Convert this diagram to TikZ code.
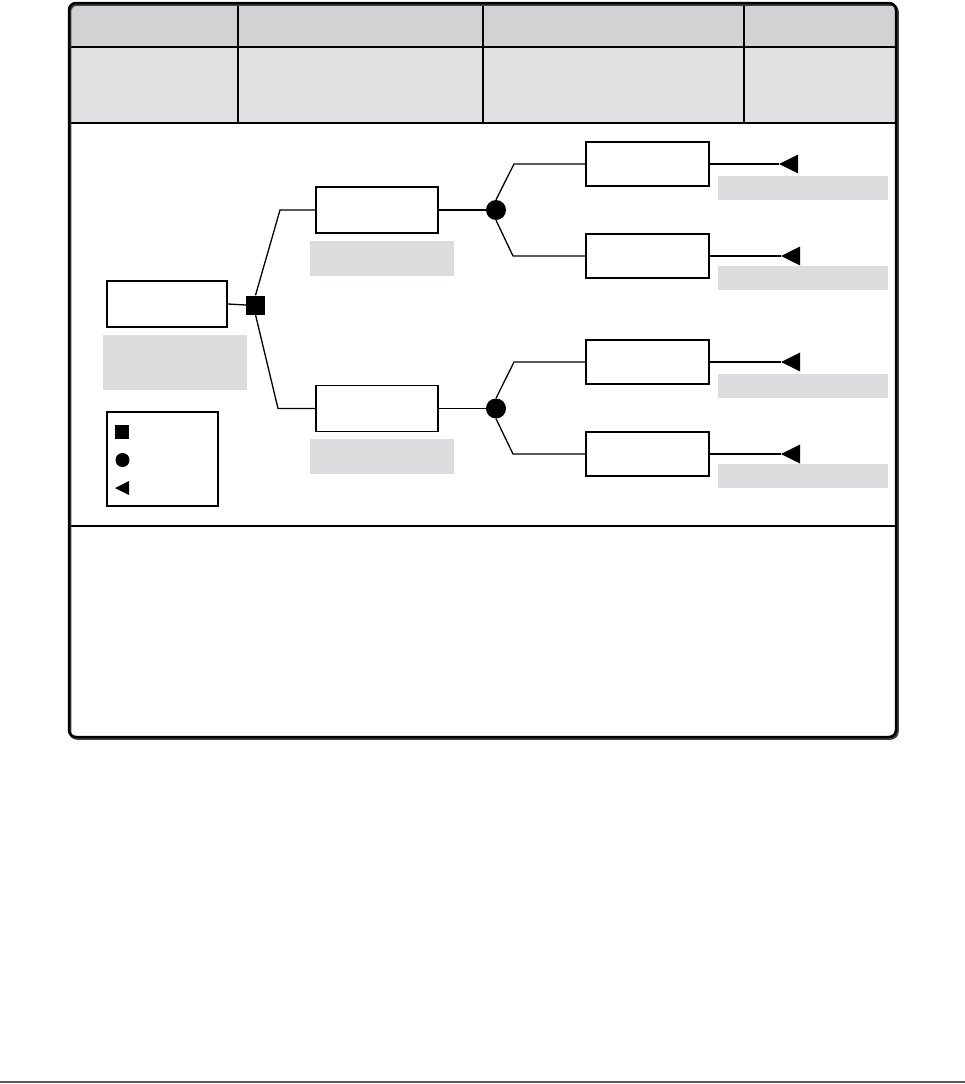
\documentclass[tikz,border=0pt]{standalone}
\definecolor{hdrA}{HTML}{D1D2D4}
\definecolor{hdrB}{HTML}{E0E1E3}
\definecolor{lbl}{HTML}{DCDDDF}
\definecolor{rule}{HTML}{5A5A5A}
\begin{document}
\begin{tikzpicture}[x=1pt,y=-1pt,
  stepbox/.style={draw,line width=1.8pt,inner sep=0,minimum width=122pt,minimum height=46pt},
  endbox/.style={draw,line width=1.8pt,inner sep=0,minimum width=123pt,minimum height=44pt},
  lblbox/.style={fill=lbl,inner sep=0},
  conn/.style={line width=1.3pt},
  decnode/.style={fill=black,inner sep=0,minimum size=19pt},
  chancenode/.style={circle,fill=black,inner sep=0,minimum size=20pt},
  endmark/.style={fill=black}]
\useasboundingbox (0,0) rectangle (965,1084);
% frame and header
\begin{scope}
  \clip[rounded corners=7pt] (69,3) rectangle (896,737);
  \fill[hdrA] (69,3) rectangle (896,47);
  \fill[hdrB] (69,47) rectangle (896,123);
\end{scope}
\draw[line width=1.5pt] (69,47) -- (896,47);
\draw[line width=2.5pt] (69,123) -- (896,123);
\foreach \cx in {238,483,744} \draw[line width=2pt] (\cx,3) -- (\cx,123);
\draw[line width=1.6pt] (69,526) -- (896,526);
\draw[line width=2.5pt,black!75,rounded corners=7pt] (70,4.5) rectangle (897.5,738.5);
\draw[line width=2.5pt,rounded corners=7pt] (69,3) rectangle (896,737);
\draw[line width=2.5pt,rule] (0,1082) -- (965,1082);
% tree nodes
\node[draw,line width=1.8pt,inner sep=0,minimum width=120pt,minimum height=46pt] (root) at (167,304) {};
\node[lblbox,minimum width=144pt,minimum height=55pt] (rootlbl) at (175,362.5) {};
\node[stepbox] (b1) at (377,210) {};
\node[lblbox,minimum width=144pt,minimum height=35pt] (b1lbl) at (382,258.5) {};
\node[stepbox] (b2) at (377,408.5) {};
\node[lblbox,minimum width=144pt,minimum height=35pt] (b2lbl) at (382,456.5) {};
\node[endbox] (r1) at (647.5,164) {};
\node[endbox] (r2) at (647.5,256) {};
\node[endbox] (r3) at (647.5,362) {};
\node[endbox] (r4) at (647.5,454) {};
\node[lblbox,minimum width=170pt,minimum height=24pt] (r1lbl) at (803,188) {};
\node[lblbox,minimum width=170pt,minimum height=24pt] (r2lbl) at (803,278) {};
\node[lblbox,minimum width=170pt,minimum height=24pt] (r3lbl) at (803,386) {};
\node[lblbox,minimum width=170pt,minimum height=24pt] (r4lbl) at (803,475.5) {};
% connectors
\coordinate (k1) at (280,210);
\coordinate (k2) at (278,408.5);
\coordinate (m1) at (514,164);
\coordinate (m2) at (513,256);
\coordinate (m3) at (514,362);
\coordinate (m4) at (513,454);
\coordinate (t1) at (779,164);
\coordinate (t2) at (781,256);
\coordinate (t3) at (781,362);
\coordinate (t4) at (781,454);
\node[decnode] (dec) at (255.5,305) {};
\node[chancenode] (c1) at (496,210) {};
\node[chancenode] (c2) at (496,408.5) {};
\draw[conn] (root.east) -- (dec.west);
\draw[conn] (dec.north) -- (k1) -- (b1.west);
\draw[conn] (dec.south) -- (k2) -- (b2.west);
\draw[conn] (b1.east) -- (c1.west);
\draw[conn] (b2.east) -- (c2.west);
\draw[conn] (c1.north) -- (m1) -- (r1.west);
\draw[conn] (c1.south) -- (m2) -- (r2.west);
\draw[conn] (c2.north) -- (m3) -- (r3.west);
\draw[conn] (c2.south) -- (m4) -- (r4.west);
\draw[line width=1.6pt] (r1.east) -- (t1);
\foreach \i in {2,3,4} \draw[conn] (r\i.east) -- (t\i);
\foreach \i in {1,2,3,4} \fill[endmark] (t\i) -- ++(19,-9.5) -- ++(0,19) -- cycle;
% legend
\node[draw,line width=1.5pt,inner sep=0,minimum width=111pt,minimum height=94pt] (legend) at (162.5,459) {};
\fill (115,425) rectangle (129,439);
\fill (122.5,460) circle (7pt);
\fill (115,488) -- (129,481) -- (129,495) -- cycle;
\end{tikzpicture}
\end{document}
